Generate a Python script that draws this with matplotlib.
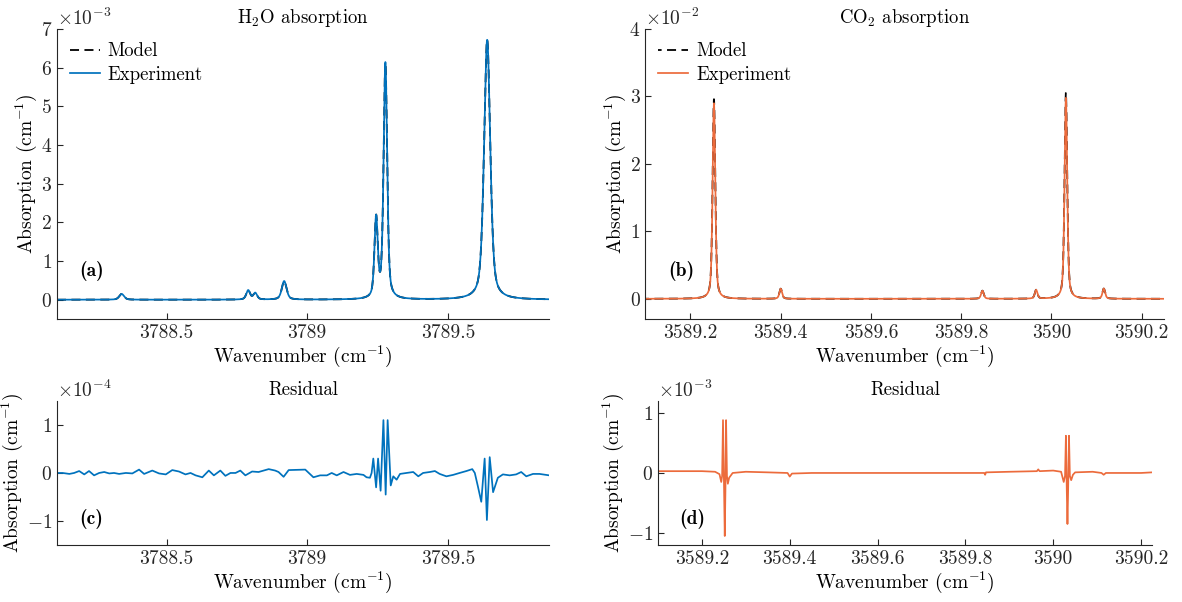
import numpy as np
import matplotlib
matplotlib.use('Agg')
import matplotlib.pyplot as plt

plt.rcParams['font.family'] = 'cmr10'
plt.rcParams['mathtext.fontset'] = 'cm'
plt.rcParams['axes.formatter.use_mathtext'] = True
plt.rcParams['axes.unicode_minus'] = False

# H2O lines (wavenumber cm-1, peak absorption cm-1, half width cm-1)
h2o_pos = [3788.340, 3788.790, 3788.815, 3788.918, 3789.245, 3789.278, 3789.640]
h2o_height = [0.15e-3, 0.24e-3, 0.17e-3, 0.48e-3, 2.05e-3, 6.10e-3, 6.72e-3]
h2o_hwhm = [0.010, 0.008, 0.008, 0.010, 0.007, 0.0075, 0.013]

# CO2 lines
co2_pos = [3589.252, 3589.400, 3589.847, 3589.966, 3590.032, 3590.116]
co2_model = [2.96e-2, 0.15e-2, 0.12e-2, 0.13e-2, 3.06e-2, 0.15e-2]
co2_exp = [2.90e-2, 0.15e-2, 0.12e-2, 0.13e-2, 2.98e-2, 0.15e-2]
co2_hwhm = 0.0035

# residual H2O (wavenumber, value in 1e-4 cm-1)
res_h2o_x = [3788.106, 3788.130, 3788.154, 3788.171, 3788.189, 3788.207, 3788.224,
             3788.242, 3788.260, 3788.278, 3788.296, 3788.313, 3788.331, 3788.355,
             3788.378, 3788.402, 3788.420, 3788.449, 3788.473, 3788.497, 3788.520,
             3788.544, 3788.567, 3788.585, 3788.603, 3788.627, 3788.650, 3788.668,
             3788.691, 3788.709, 3788.727, 3788.745, 3788.762, 3788.780, 3788.804,
             3788.827, 3788.845, 3788.863, 3788.886, 3788.898, 3788.916, 3788.934,
             3788.993, 3789.022, 3789.046, 3789.070, 3789.087, 3789.105, 3789.129,
             3789.152, 3789.176, 3789.200, 3789.211, 3789.223, 3789.229, 3789.235,
             3789.245, 3789.252, 3789.261, 3789.271, 3789.279, 3789.286, 3789.297,
             3789.306, 3789.318, 3789.330, 3789.353, 3789.377, 3789.395, 3789.412,
             3789.436, 3789.454, 3789.471, 3789.495, 3789.519, 3789.542, 3789.566,
             3789.587, 3789.596, 3789.607, 3789.619, 3789.631, 3789.639, 3789.649,
             3789.661, 3789.678, 3789.696, 3789.720, 3789.743, 3789.761, 3789.779,
             3789.803, 3789.826, 3789.861]
res_h2o_y = [0.0, 0.0, -0.02, 0.0, 0.04, -0.03, 0.04,
             -0.05, 0.0, 0.02, -0.01, 0.0, -0.02, 0.0,
             -0.01, 0.07, -0.02, 0.05, -0.01, -0.03, 0.06,
             0.03, -0.03, 0.0, -0.05, -0.09, 0.05, -0.05,
             0.05, -0.06, 0.0, 0.0, 0.05, -0.05, 0.03,
             0.02, 0.05, 0.08, 0.05, 0.02, -0.08, 0.06,
             0.07, -0.09, -0.05, -0.05, 0.0, -0.05, 0.02,
             -0.04, -0.02, -0.04, -0.09, -0.10, 0.0, 0.30,
             -0.30, 0.30, -0.37, 1.10, -0.45, 1.10, -0.26,
             -0.07, -0.14, -0.02, 0.0, 0.02, -0.07, 0.0,
             0.02, 0.04, -0.02, -0.07, -0.04, 0.0, 0.04,
             0.08, 0.0, -0.28, -0.60, 0.30, -0.98, 0.33,
             -0.40, -0.10, -0.03, -0.05, -0.03, 0.02, -0.07,
             -0.02, -0.02, -0.05]

# residual CO2 (wavenumber, value in 1e-3 cm-1)
res_co2_x = [3589.100, 3589.150, 3589.200, 3589.230, 3589.240, 3589.244, 3589.246,
             3589.248, 3589.2505, 3589.252, 3589.2535, 3589.255, 3589.257, 3589.259,
             3589.262, 3589.270, 3589.300, 3589.350, 3589.395, 3589.400, 3589.405,
             3589.450, 3589.600, 3589.800, 3589.843, 3589.845, 3589.847, 3589.900,
             3589.963, 3589.966, 3589.969, 3590.000, 3590.018, 3590.024, 3590.027,
             3590.029, 3590.031, 3590.0325, 3590.034, 3590.036, 3590.038, 3590.041,
             3590.045, 3590.050, 3590.090, 3590.110, 3590.115, 3590.120, 3590.150,
             3590.200, 3590.225]
res_co2_y = [0.03, 0.03, 0.03, 0.02, -0.02, -0.15, -0.05,
             0.88, -0.30, -1.05, -0.30, 0.88, -0.05, -0.18,
             -0.08, 0.0, 0.02, 0.01, 0.0, -0.06, -0.01,
             0.0, 0.0, 0.0, 0.0, -0.03, 0.01, 0.02,
             0.03, 0.06, 0.03, 0.04, 0.02, -0.15, -0.05,
             0.62, -0.30, -0.85, -0.30, 0.62, -0.05, -0.12,
             -0.03, 0.01, 0.02, 0.0, -0.03, 0.0, 0.0,
             0.0, 0.01]

blue = '#0072BD'
orange = '#EC6B3C'
dash = (0, (5, 3))


def lines(x, pos, height, hwhm, eta=0.5):
    y = np.zeros_like(x)
    hw = np.broadcast_to(hwhm, len(pos))
    for p, h, w in zip(pos, height, hw):
        d = (x - p) / w
        y += h * (eta / (1 + d**2) + (1 - eta) * np.exp(-np.log(2) * d**2))
    return y


def style(ax, xlim, ylim, yticks):
    ax.set_xlim(xlim)
    ax.set_ylim(ylim)
    ax.set_yticks(yticks)
    for s in ['top', 'right']:
        ax.spines[s].set_visible(False)
    for s in ['left', 'bottom']:
        ax.spines[s].set_color('#262626')
        ax.spines[s].set_linewidth(0.8)
    ax.tick_params(direction='in', length=4, width=0.8, colors='#262626', labelsize=14)
    ax.ticklabel_format(axis='y', style='sci', scilimits=(0, 0))
    ax.yaxis.get_offset_text().set_fontsize(14)
    ax.set_xlabel('Wavenumber (cm$^{-1}$)', fontsize=14, labelpad=1)
    ax.set_ylabel('Absorption (cm$^{-1}$)', fontsize=14, labelpad=1)


def legend(ax):
    ax.legend(loc='upper left', frameon=False, fontsize=13.5, handlelength=1.6,
              handletextpad=0.4, borderaxespad=0.3, labelspacing=0.3)


fig = plt.figure(figsize=(11.82, 6.02), dpi=100)
ax_a = fig.add_axes([0.0482, 0.470, 0.4163, 0.4818])
ax_b = fig.add_axes([0.546, 0.470, 0.439, 0.4818])
ax_c = fig.add_axes([0.0482, 0.0947, 0.4163, 0.2393])
ax_d = fig.add_axes([0.5567, 0.0947, 0.4179, 0.2393])

# (a) H2O
xa = np.linspace(3788.11, 3789.86, 5000)
ya = lines(xa, h2o_pos, h2o_height, h2o_hwhm)
ax_a.plot(xa, ya, color='k', linestyle=dash, lw=1.3, label='Model')
ax_a.plot(xa, ya, color=blue, lw=1.25, label='Experiment')
style(ax_a, (3788.11, 3789.86), (-0.5e-3, 7e-3), np.arange(0, 8) * 1e-3)
ax_a.set_xticks([3788.5, 3789, 3789.5])
ax_a.set_xticklabels(['3788.5', '3789', '3789.5'])
ax_a.set_title('H$_2$O absorption', fontsize=13.5, pad=4)
legend(ax_a)

# (b) CO2
xb = np.linspace(3589.10, 3590.25, 6000)
ax_b.plot(xb, lines(xb, co2_pos, co2_model, co2_hwhm), color='k', linestyle=(3, (5, 3)),
          lw=1.3, label='Model')
ax_b.plot(xb, lines(xb, co2_pos, co2_exp, co2_hwhm), color=orange, lw=1.25, label='Experiment')
style(ax_b, (3589.10, 3590.25), (-0.3e-2, 4e-2), np.arange(0, 5) * 1e-2)
ax_b.set_xticks([3589.2, 3589.4, 3589.6, 3589.8, 3590.0, 3590.2])
ax_b.set_xticklabels(['3589.2', '3589.4', '3589.6', '3589.8', '3590', '3590.2'])
ax_b.set_title('CO$_2$ absorption', fontsize=13.5, pad=4)
legend(ax_b)

# (c) residual H2O
ax_c.plot(res_h2o_x, np.array(res_h2o_y) * 1e-4, color=blue, lw=1.25)
style(ax_c, (3788.11, 3789.86), (-1.5e-4, 1.5e-4), [-1e-4, 0, 1e-4])
ax_c.set_xticks([3788.5, 3789, 3789.5])
ax_c.set_xticklabels(['3788.5', '3789', '3789.5'])
ax_c.set_title('Residual', fontsize=13.5, pad=4)

# (d) residual CO2
ax_d.plot(res_co2_x, np.array(res_co2_y) * 1e-3, color=orange, lw=1.25)
style(ax_d, (3589.10, 3590.225), (-1.2e-3, 1.2e-3), [-1e-3, 0, 1e-3])
ax_d.set_xticks([3589.2, 3589.4, 3589.6, 3589.8, 3590.0, 3590.2])
ax_d.set_xticklabels(['3589.2', '3589.4', '3589.6', '3589.8', '3590', '3590.2'])
ax_d.set_title('Residual', fontsize=13.5, pad=4)

for ax, lab, yy in [(ax_a, '(a)', 0.165), (ax_b, '(b)', 0.165),
                    (ax_c, '(c)', 0.18), (ax_d, '(d)', 0.18)]:
    ax.text(0.07, yy, lab, transform=ax.transAxes, fontsize=14,
            family='cmb10', ha='center', va='center')

fig.savefig('out.png', dpi=100)
